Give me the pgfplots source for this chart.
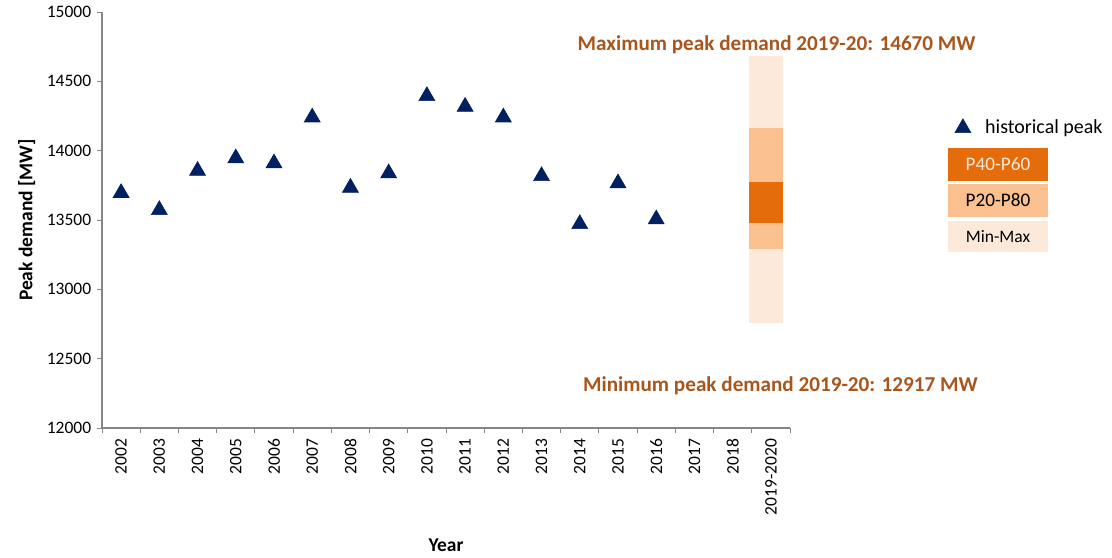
\documentclass[border=0pt]{standalone}
\usepackage{pgfplots}
\pgfplotsset{compat=1.18}
\usepackage{fontspec}
\setmainfont{Carlito}
\definecolor{navy}{HTML}{002060}
\definecolor{pdark}{HTML}{E46C0A}
\definecolor{pmid}{HTML}{FAC090}
\definecolor{plight}{HTML}{FDE9D9}
\definecolor{annot}{HTML}{A8561C}
\definecolor{axgray}{HTML}{868686}
\begin{document}
\begin{tikzpicture}[x=0.6pt,y=0.6pt]
\begin{axis}[
  at={(0,0)}, anchor=south west,
  scale only axis,
  width=412.8pt, height=249.6pt,
  xmin=-0.5, xmax=17.5,
  ymin=12000, ymax=15000,
  ytick={12000,12500,...,15000},
  xtick={0,...,17},
  xticklabels={2002,2003,2004,2005,2006,2007,2008,2009,2010,2011,2012,2013,2014,2015,2016,2017,2018,2019-2020},
  minor xtick={-0.5,0.5,...,17.5},
  x tick label style={rotate=90, anchor=east, font=\fontsize{10.5}{12}\selectfont},
  y tick label style={font=\fontsize{10.5}{12}\selectfont},
  yticklabel style={/pgf/number format/.cd, 1000 sep={}, assume math mode=true},
  scaled y ticks=false,
  axis x line*=bottom, axis y line*=left,
  axis line style={axgray, line width=0.8pt},
  tick align=outside,
  major x tick style={draw=none},
  minor x tick style={axgray, line width=0.6pt},
  major y tick style={axgray, line width=0.6pt},
  major tick length=3pt, minor tick length=3pt,
  xlabel={\bfseries Year},
  ylabel={\bfseries Peak demand [MW]},
  xlabel style={font=\fontsize{11.7}{13}\selectfont, at={(rel axis cs:0.5,0)}, yshift=-63pt},
  ylabel style={font=\fontsize{11.7}{13}\selectfont},
  clip=false,
  legend style={at={(rel axis cs:1.2393,0.721)}, anchor=west, draw=none, fill=none,
    font=\fontsize{12}{14}\selectfont, inner sep=0pt, row sep=0pt,
    /tikz/every odd column/.append style={column sep=6.6pt}},
  legend cell align=left,
]
% range bar 2019-2020
\addplot[fill=plight, draw=none, forget plot] coordinates {(16.43,12757) (17.31,12757) (17.31,14685) (16.43,14685)} -- cycle;
\addplot[fill=pmid, draw=none, forget plot] coordinates {(16.43,13292) (17.31,13292) (17.31,14164) (16.43,14164)} -- cycle;
\addplot[fill=pdark, draw=none, forget plot] coordinates {(16.43,13480) (17.31,13480) (17.31,13772) (16.43,13772)} -- cycle;
% historical peaks
\addplot[only marks, mark=triangle*, mark size=5.5pt, color=navy] coordinates {
(0,13695) (1,13572) (2,13855) (3,13945) (4,13909) (5,14240) (6,13733) (7,13837)
(8,14394) (9,14317) (10,14240) (11,13817) (12,13471) (13,13765) (14,13505)};
\addlegendentry{historical peak}
\node[font=\fontsize{12.7}{14}\selectfont\bfseries, text=annot] at (axis cs:17.15,14762) {Maximum peak demand 2019-20: 14670 MW};
\node[font=\fontsize{12.7}{14}\selectfont\bfseries, text=annot] at (axis cs:17.25,12303) {Minimum peak demand 2019-20: 12917 MW};
\node[fill=pdark, text=plight, minimum width=60pt, minimum height=19.8pt, inner sep=0pt, font=\fontsize{11.5}{13}\selectfont] at (rel axis cs:1.3023,0.6334) {P40-P60};
\node[fill=pmid, text=black, minimum width=60pt, minimum height=19.8pt, inner sep=0pt, font=\fontsize{11.5}{13}\selectfont] at (rel axis cs:1.3023,0.5469) {P20-P80};
\node[fill=plight, text=black, minimum width=60pt, minimum height=18.6pt, inner sep=0pt, font=\fontsize{10.5}{12}\selectfont] at (rel axis cs:1.3023,0.4603) {Min-Max};
\end{axis}
\path[use as bounding box] (-102,-128) rectangle (1010,428);
\end{tikzpicture}
\end{document}
